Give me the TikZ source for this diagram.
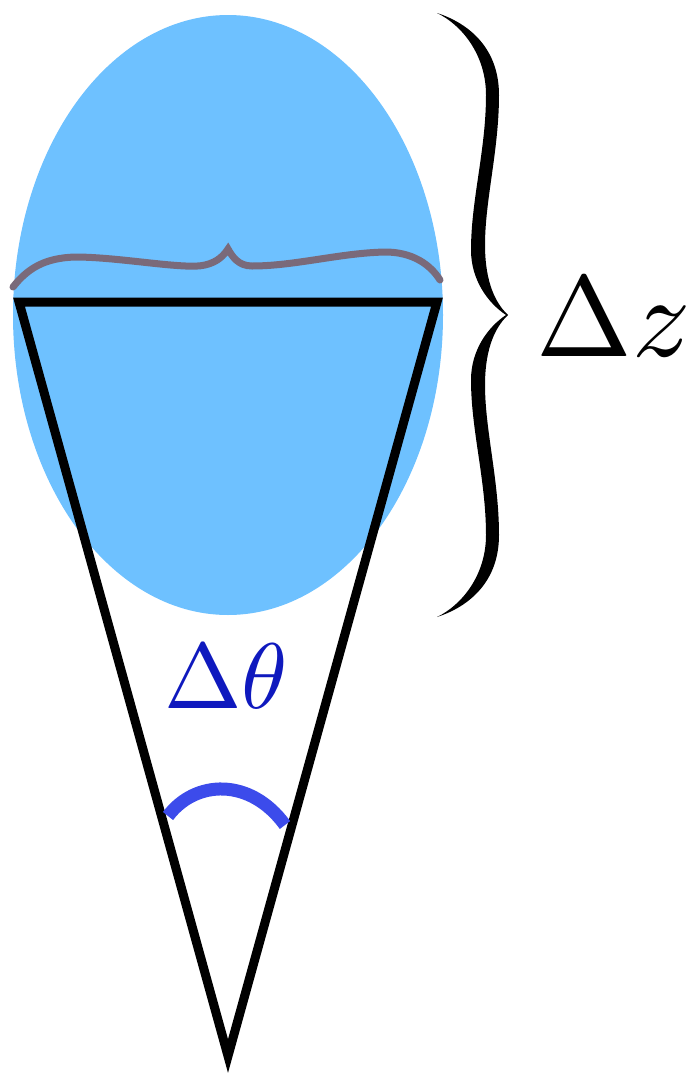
\documentclass[tikz,border=0pt]{standalone}
\definecolor{blobblue}{RGB}{110,193,255}
\definecolor{greybrace}{RGB}{122,106,122}
\definecolor{thetablue}{RGB}{15,25,190}
\definecolor{arcblue}{RGB}{60,75,235}
\tikzset{
  cone/.style={draw=black,line width=9pt,miter limit=20,line join=miter},
  lbl/.style={inner sep=0pt,anchor=base},
}
\begin{document}
\begin{tikzpicture}[x=1pt,y=-1pt]
\fill[white] (0,0) rectangle (692,1074);
\useasboundingbox (0,0) rectangle (692,1074);
% blue ellipse
\fill[blobblue] (228,315) ellipse [x radius=215, y radius=300];
% grey brace across the top of the cone
\draw[greybrace,line width=7pt,line cap=round]
  (13,287) .. controls (28,268) and (45,258) .. (75,257)
  .. controls (120,257) and (185,270) .. (205,265)
  .. controls (218,262) and (224,255) .. (228,249)
  .. controls (232,256) and (238,266) .. (252,266)
  .. controls (295,266) and (340,253) .. (385,252)
  .. controls (412,252) and (430,264) .. (440,280);
% cone
\coordinate (tl) at (19,302);
\coordinate (tr) at (437,302);
\coordinate (ap) at (228,1056);
\draw[cone] (tl) -- (tr) -- (ap) -- cycle;
% angle arc
\coordinate (a1) at (168,816);
\coordinate (a2) at (285,825);
\draw[arcblue,line width=13pt] (a1) .. controls (195,780) and (250,777) .. (a2);
% labels
\node[lbl,text=thetablue,scale=9.3] (dtheta) at (226,708) {$\Delta\theta$};
\node[lbl,scale=11.5] (dz) at (614,356) {$\Delta z$};
% big right brace
\fill[black]
  (437,13) .. controls (465,22) and (499,45) .. (499,95)
  .. controls (499,150) and (485,200) .. (485,245)
  .. controls (485,275) and (492,300) .. (508,315)
  .. controls (492,330) and (485,355) .. (485,385)
  .. controls (485,430) and (499,480) .. (499,535)
  .. controls (499,585) and (465,608) .. (437,617)
  .. controls (462,605) and (486,575) .. (486,535)
  .. controls (486,480) and (471,430) .. (471,380)
  .. controls (471,350) and (488,327) .. (506,315)
  .. controls (488,303) and (471,280) .. (471,250)
  .. controls (471,200) and (486,150) .. (486,95)
  .. controls (486,55) and (462,25) .. (437,13) -- cycle;
\end{tikzpicture}
\end{document}
